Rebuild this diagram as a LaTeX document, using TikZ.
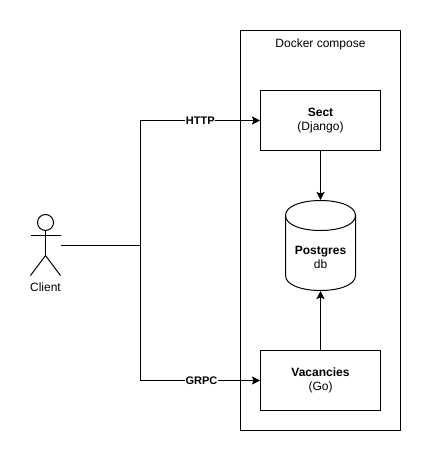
\documentclass[tikz,border=0pt]{standalone}
\usepackage{fontspec}
\setmainfont{Liberation Sans}
\usepackage{tikz}
\usetikzlibrary{arrows.meta,positioning}
\tikzset{
  box/.style={draw,rectangle,line width=1pt,minimum width=120pt,minimum height=60pt,align=center,inner sep=0pt},
  txt/.style={font=\fontsize{12}{14}\selectfont,align=center,inner sep=0pt},
  edgelabel/.style={font=\fontsize{11}{13}\selectfont\bfseries,fill=white,inner sep=0.5pt},
  conn/.style={line width=1pt,-{Stealth[length=8pt,width=8pt,inset=1.5pt]}}
}
\begin{document}
\begin{tikzpicture}[x=1pt,y=-1pt,line width=1pt]
\useasboundingbox (0,0) rectangle (431,462);
% compose frame
\node[draw,rectangle,line width=1pt,minimum width=160pt,minimum height=400pt,inner sep=0pt] (compose) at (320.5,230.5) {};
\node[txt] (composetitle) at (320.5,44) {Docker compose};
% services
\node[box,txt,minimum width=120pt,minimum height=60pt] (sect) at (320.5,120.5) {\textbf{Sect}\\(Django)};
\node[box,txt,minimum width=120pt,minimum height=60pt] (vacancies) at (320.5,380.5) {\textbf{Vacancies}\\(Go)};
% database
\node[rectangle,minimum width=70pt,minimum height=90pt,inner sep=0pt] (db) at (320.5,245.5) {};
\draw (285.5,215.5) .. controls (285.5,195.5) and (355.5,195.5) .. (355.5,215.5)
  -- (355.5,275.5) .. controls (355.5,295.5) and (285.5,295.5) .. (285.5,275.5) -- cycle;
\draw (285.5,215.5) .. controls (285.5,235.5) and (355.5,235.5) .. (355.5,215.5);
\node[txt] (dblabel) at (320.5,257.5) {\textbf{Postgres}\\db};
% actor
\draw (45.5,222.5) circle (8pt);
\draw (45.5,230.5) -- (45.5,255.5);
\draw (30.5,235.5) -- (60.5,235.5);
\draw (30.5,275.5) -- (45.5,255.5) -- (60.5,275.5);
\node[txt] (client) at (45.5,287.5) {Client};
% connectors
\coordinate (clientout) at (60.5,245.5);
\coordinate (trunk) at (140.5,245.5);
\draw (clientout) -- (trunk);
\draw[conn] (trunk) |- (sect.west) node[edgelabel,pos=0.75] {HTTP};
\draw[conn] (trunk) |- (vacancies.west) node[edgelabel,pos=0.755] {GRPC};
\draw[conn] (sect.south) -- (db.north);
\draw[conn] (vacancies.north) -- (db.south);
\end{tikzpicture}
\end{document}
